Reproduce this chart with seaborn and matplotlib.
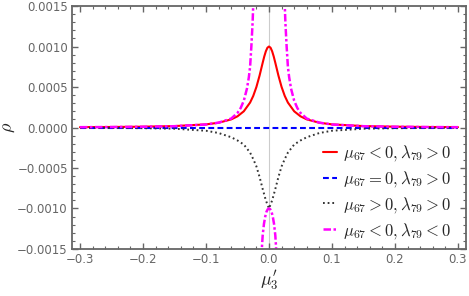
import matplotlib
matplotlib.use("Agg")
import matplotlib.pyplot as plt
import seaborn as sns
import numpy as np

# values (right half, mirrored for left)
x_half = [0.0, 0.0025, 0.005, 0.0075, 0.01, 0.015, 0.02, 0.025, 0.03, 0.04, 0.05,
          0.06, 0.08, 0.1, 0.15, 0.2, 0.25, 0.3]
red_half = [0.001, 0.000985, 0.000941, 0.000877, 0.0008, 0.00064, 0.0005, 0.00039,
            0.000308, 0.0002, 0.000138, 0.0001, 0.0000588, 0.0000385, 0.0000175,
            0.0000099, 0.0000064, 0.0000044]
black_half = [-0.001, -0.00095, -0.0009, -0.00083, -0.00076, -0.00061, -0.00048,
              -0.00039, -0.00031, -0.00021, -0.00016, -0.00012, -0.000068, -0.00004,
              -0.000015, -0.0000085, -0.0000055, -0.000004]
blue_x = [-0.3, 0.3]
blue_y = [0.0, 0.0]

# magenta: outer branches blow up near +-0.02, inner piece dives below the frame
mag_outer_x = [0.024, 0.025, 0.026, 0.028, 0.03, 0.032, 0.035, 0.04, 0.045,
               0.05, 0.06, 0.08, 0.1, 0.15, 0.2, 0.25, 0.3]
mag_outer_y = [0.0019, 0.00152, 0.0013, 0.001, 0.00075, 0.00062, 0.00048, 0.00033,
               0.00024, 0.00018, 0.00011, 0.00006, 0.000037, 0.000016, 0.000009,
               0.0000057, 0.000004]
mag_inner_x = [0.0, 0.002, 0.004, 0.006, 0.008, 0.01, 0.011, 0.012]
mag_inner_y = [-0.001, -0.00101, -0.00104, -0.0011, -0.00119, -0.00133, -0.00145, -0.0016]

labels = [r"$\mu_{67} < 0, \lambda_{79} > 0$",
          r"$\mu_{67} = 0, \lambda_{79} > 0$",
          r"$\mu_{67} > 0, \lambda_{79} > 0$",
          r"$\mu_{67} < 0, \lambda_{79} < 0$"]

def mirror(xs, ys):
    # halves start at x=0, so skip the duplicated centre point
    return [-v for v in xs[::-1]] + xs[1:], ys[::-1] + ys[1:]

red_x, red_y = mirror(x_half, red_half)
black_x, black_y = mirror(x_half, black_half)
mag_in_x, mag_in_y = mirror(mag_inner_x, mag_inner_y)

sns.set_style("ticks")
plt.rcParams["mathtext.fontset"] = "cm"
plt.rcParams["font.family"] = ["DejaVu Sans"]

fig = plt.figure(figsize=(4.69, 2.96), dpi=100)
ax = fig.add_axes([0.1535, 0.1588, 0.9936 - 0.1535, 0.9797 - 0.1588])

ax.axvline(0, color="#cccccc", lw=0.8, zorder=0)

mag_style = dict(color="#ff00ff", lw=1.8, linestyle=(0, (3, 1, 1, 1)))
sns.lineplot(x=red_x, y=red_y, color="#ff0000", lw=1.5, ax=ax, label=labels[0])
sns.lineplot(x=blue_x, y=blue_y, color="#0000ff", lw=1.5, ax=ax, label=labels[1],
             linestyle=(0, (2.8, 1.6)))
sns.lineplot(x=black_x, y=black_y, color="#333333", lw=1.4, ax=ax, label=labels[2],
             linestyle=(0, (0.9, 1.5)))
sns.lineplot(x=[-v for v in mag_outer_x], y=mag_outer_y, ax=ax, label=labels[3], **mag_style)
sns.lineplot(x=mag_outer_x, y=mag_outer_y, ax=ax, **mag_style)
sns.lineplot(x=mag_in_x, y=mag_in_y, ax=ax, **mag_style)

ax.set_xlim(-0.3127, 0.3127)
ax.set_ylim(-0.0015, 0.0015)
ax.set_xticks([-0.3, -0.2, -0.1, 0.0, 0.1, 0.2, 0.3])
ax.set_xticks(np.arange(-0.3, 0.301, 0.02), minor=True)
ax.set_yticks([-0.0015, -0.001, -0.0005, 0.0, 0.0005, 0.001, 0.0015])
ax.set_yticks(np.arange(-0.0015, 0.00151, 0.0001), minor=True)
ax.set_xticklabels(["\u22120.3", "\u22120.2", "\u22120.1", "0.0", "0.1", "0.2", "0.3"])
ax.set_yticklabels(["\u22120.0015", "\u22120.0010", "\u22120.0005", "0.0000",
                    "0.0005", "0.0010", "0.0015"])

for s in ax.spines.values():
    s.set_color("#666666")
    s.set_linewidth(1.3)
ax.tick_params(which="both", direction="in", top=True, right=True, color="#666666",
               labelcolor="#666666", labelsize=8.5, pad=3)
ax.tick_params(which="major", length=4, width=1.0)
ax.tick_params(which="minor", length=2.3, width=0.8)

ax.set_xlabel(r"$\mu_3'$", fontsize=13, labelpad=2)
ax.set_ylabel(r"$\rho$", fontsize=13)
ax.yaxis.set_label_coords(-0.14, 0.5)

handles, lbls = ax.get_legend_handles_labels()
ax.legend(handles, lbls, loc="center right", bbox_to_anchor=(0.985, 0.235),
          frameon=False, fontsize=12, handlelength=0.8, handletextpad=0.4,
          labelspacing=0.35, borderpad=0)

fig.savefig("out.png", dpi=100, facecolor="white")
